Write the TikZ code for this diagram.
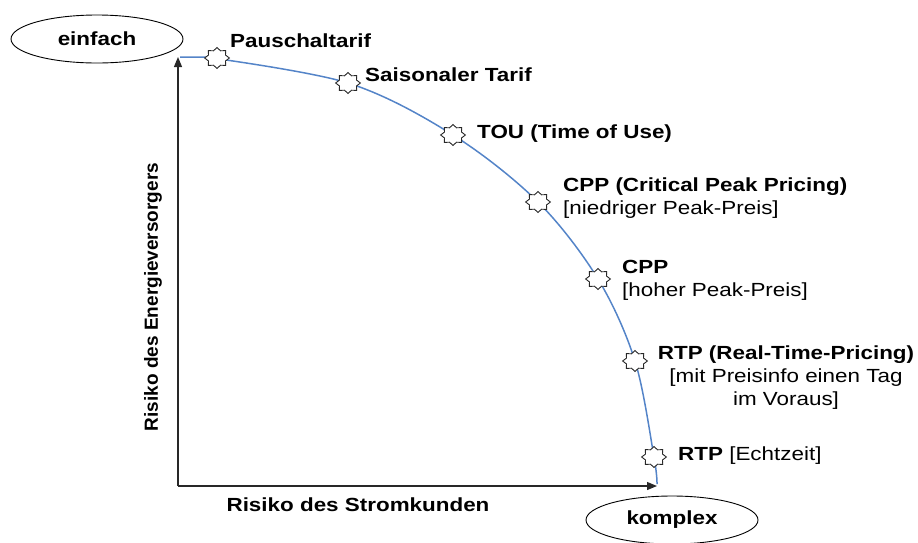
\documentclass[tikz,border=0pt]{standalone}
\usepackage{fontspec}
\setmainfont[FakeStretch=1.18]{Liberation Sans}
\newfontfamily\upsans{Liberation Sans}
\usepackage{tikz}
\usetikzlibrary{arrows.meta,shapes}
\definecolor{curveblue}{RGB}{84,132,200}
\definecolor{axisgray}{RGB}{40,40,40}
\tikzstyle{lbl}=[anchor=west,inner sep=0pt,font=\fontsize{19}{23}\selectfont,align=left]
\tikzstyle{seal}=[star,star points=8,star point ratio=1.35,minimum size=21pt,inner sep=0pt,xscale=1.18,draw=axisgray,fill=white,line width=0.9pt]
\tikzstyle{pole}=[ellipse,draw=black,line width=0.9pt,minimum width=172pt,minimum height=48pt,inner sep=0pt,font=\fontsize{19}{23}\selectfont\bfseries]
\tikzstyle{axis}=[draw=axisgray,line width=1.2pt,-{Triangle[length=10pt,width=8pt]}]
\tikzstyle{curve}=[draw=curveblue,line width=1.5pt]

\begin{document}
\begin{tikzpicture}[x=1pt,y=-1pt]
        \useasboundingbox (0,0) rectangle (918,542);
        % axes
        \coordinate (origin) at (178,486);
        \coordinate (ytop) at (178,57);
        \coordinate (xend) at (657,486);
        \draw[axis] (origin) to (ytop);
        \draw[axis] (origin) to (xend);
        \node[font=\upsans\fontsize{19}{23}\selectfont\bfseries,rotate=90] (yl) at (153,297) {Risiko des Energieversorgers};
        \node[font=\fontsize{19}{23}\selectfont\bfseries] (xl) at (358,505) {Risiko des Stromkunden};
        % poles
        \node[pole] (einfach) at (97,39) {einfach};
        \node[pole] (komplex) at (672,520) {komplex};
        % tariff points
        \coordinate (top) at (180,57);
        \coordinate (flat) at (205,57);
        \coordinate (p1) at (217,58);
        \coordinate (p2) at (348,83);
        \coordinate (p3) at (453,135);
        \coordinate (p4) at (538,202);
        \coordinate (p5) at (598,279);
        \coordinate (p6) at (635,361);
        \coordinate (p7) at (654,457);
        \coordinate (bottom) at (657,484);
        \draw[curve] (top) -- plot[smooth,tension=0.55] coordinates {(flat) (p2) (p3) (p4) (p5) (p6) (p7) (bottom)};
        \foreach \i in {1,...,7}
          \node[seal] (s\i) at (p\i) {};
        % labels
        \node[lbl] (pausch) at (230,41) {\textbf{Pauschaltarif}};
        \node[lbl] (saison) at (365,75) {\textbf{Saisonaler Tarif}};
        \node[lbl] (tou) at (477,134) {\textbf{TOU (Time of Use)}};
        \node[lbl] (cpplow) at (563,198) {\textbf{CPP (Critical Peak Pricing)}\\{[}niedriger Peak-Preis]};
        \node[lbl] (cpphigh) at (622,280) {\textbf{CPP}\\{[}hoher Peak-Preis]};
        \node[lbl,anchor=center,align=center] (rtpday) at (786,378) {\textbf{RTP (Real-Time-Pricing)}\\{[}mit Preisinfo einen Tag\\im Voraus]};
        \node[lbl] (rtpnow) at (678,456) {\textbf{RTP} [Echtzeit]};
      \end{tikzpicture}
\end{document}
